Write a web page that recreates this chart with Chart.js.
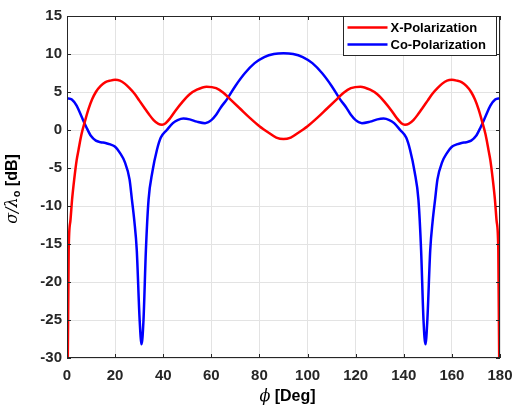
<!DOCTYPE html>
<html><head><meta charset="utf-8">
<script src="https://cdn.jsdelivr.net/npm/chart.js@4/dist/chart.umd.min.js"></script>
<style>html,body{margin:0;padding:0;background:#fff;}#wrap{width:514px;height:405px;}</style>
</head><body><div id="wrap"><canvas id="c" width="514" height="405"></canvas></div>
<script>
const xTicks = [0,20,40,60,80,100,120,140,160,180];
const yTicks = [-30,-25,-20,-15,-10,-5,0,5,10,15];

const phiX = [0,0.7,1.4,2.1,3,4,4.8,6,7.6,9,10.4,12,14,16,18,20,22,24,26,28,30,32,34,36,38,39.5,41,43,45,48,51,54,58,62,65,68,72,76,80,84,87,90,
  93,96,100,104,108,112,115,118,122,126,129,132,135,137,139,140.5,142,144,146,148,150,152,154,156,158,160,162,164,166,168,169.6,171,172.4,174,175.2,176,177,177.9,178.6,179.3,180];
const xPol = [-45,-15.8,-12,-9.2,-6.5,-4,-2.6,-0.6,1.3,2.8,4.0,5.0,5.8,6.3,6.5,6.6,6.5,6.1,5.5,4.8,3.9,3.0,2.1,1.3,0.8,0.7,0.9,1.6,2.5,3.7,4.7,5.3,5.7,5.5,4.9,4.0,2.8,1.6,0.5,-0.4,-1.0,-1.2,
  -1.0,-0.4,0.5,1.6,2.8,4.0,4.9,5.5,5.7,5.3,4.7,3.7,2.5,1.6,0.9,0.7,0.8,1.3,2.1,3.0,3.9,4.8,5.5,6.1,6.5,6.6,6.5,6.3,5.8,5.0,4.0,2.8,1.3,-0.6,-2.6,-4,-6.5,-9.2,-12,-15.8,-45];

const phiCo = [0,2,4,6,8,10,12,14,16,18,20,22,24,26,27,28,29,30.2,31,31.8,32.8,33.9,35.5,37.4,39,41.5,44,46,48.4,51,54,57.4,60,62,64,66.4,70,74,78,82,86,90,
  94,98,102,106,110,113.6,116,118,120,122.6,126,129,131.6,134,136,138.5,141,142.6,144.5,146.1,147.2,148.2,149,149.8,151,152,153,154,156,158,160,162,164,166,168,170,172,174,176,178,180];
const coPol = [4.2,4.0,3.2,1.8,0.4,-0.8,-1.4,-1.6,-1.7,-1.9,-2.2,-3.0,-4.2,-6.5,-9.2,-12,-15.8,-25,-28.2,-25,-15.8,-9.2,-5.5,-2.6,-1.0,0,0.9,1.3,1.5,1.4,1.1,0.9,1.3,2.0,3.0,4.0,5.8,7.5,8.8,9.6,10.0,10.1,
  10.0,9.6,8.8,7.5,5.8,4.0,3.0,2.0,1.3,0.9,1.1,1.4,1.5,1.3,0.9,0,-1.0,-2.6,-5.5,-9.2,-15.8,-25,-28.2,-25,-15.8,-12,-9.2,-6.5,-4.2,-3.0,-2.2,-1.9,-1.7,-1.6,-1.4,-0.8,0.4,1.8,3.2,4.0,4.2];

const seriesNames = ['X-Polarization','Co-Polarization'];
const seriesColors = ['#ff0000','#0000ff'];

const toPts = (xs, ys) => xs.map((x,i)=>({x:x,y:ys[i]}));
const FONT = '"Liberation Sans", Arial, Helvetica, sans-serif';
const TXT = '#262626';

const decor = {
  id:'decor',
  afterDatasetsDraw(chart){
    const {ctx, chartArea:a} = chart;
    ctx.save();
    ctx.strokeStyle = TXT; ctx.lineWidth = 1;
    ctx.strokeRect(a.left+0.5, a.top+0.5, a.right-a.left-1, a.bottom-a.top-1);
    const xs = chart.scales.x, ys = chart.scales.y;
    ctx.beginPath();
    xTicks.forEach(v=>{const p=Math.round(xs.getPixelForValue(v))+0.5;
      ctx.moveTo(p,a.bottom); ctx.lineTo(p,a.bottom-4); ctx.moveTo(p,a.top); ctx.lineTo(p,a.top+4);});
    yTicks.forEach(v=>{const p=Math.round(ys.getPixelForValue(v))+0.5;
      ctx.moveTo(a.left,p); ctx.lineTo(a.left+4,p); ctx.moveTo(a.right,p); ctx.lineTo(a.right-4,p);});
    ctx.stroke();
    // legend
    const lw=153, lh=39, lx=a.right-3.5-lw, ly=a.top+0.5;
    ctx.fillStyle='#fff'; ctx.fillRect(lx,ly,lw,lh);
    ctx.strokeStyle=TXT; ctx.strokeRect(lx,ly,lw,lh);
    ctx.font = 'bold 13px '+FONT; ctx.textBaseline='middle'; ctx.textAlign='left';
    chart.data.datasets.forEach((d,i)=>{
      const y = a.top + 11.5 + i*17;
      ctx.strokeStyle=d.borderColor; ctx.lineWidth=2.5;
      ctx.beginPath(); ctx.moveTo(lx+4,y); ctx.lineTo(lx+44,y); ctx.stroke();
      ctx.fillStyle='#000'; ctx.fillText(d.label, lx+47, y+0.5);
    });
    // x title
    ctx.fillStyle='#000';
    ctx.textBaseline='middle';
    const cx = (a.left+a.right)/2;
    ctx.font = 'italic 16px "DejaVu Serif", serif';
    const p1='ϕ'; const w1=ctx.measureText(p1).width;
    ctx.font = 'bold 16px '+FONT;
    const p2=' [Deg]'; const w2=ctx.measureText(p2).width;
    let sx = cx - (w1+w2)/2 + 4;
    ctx.font = 'italic 16px "DejaVu Serif", serif'; ctx.fillText(p1, sx, 397);
    ctx.font = 'bold 16px '+FONT; ctx.fillText(p2, sx+w1, 397);
    // y title rotated
    ctx.translate(13, 189); ctx.rotate(-Math.PI/2);
    const parts = [
      {t:'σ/λ', f:'italic 16px "DejaVu Serif", serif', dy:0},
      {t:'o', f:'bold 11px '+FONT, dy:4},
      {t:' [dB]', f:'bold 16px '+FONT, dy:0}
    ];
    let tw=0; parts.forEach(p=>{ctx.font=p.f; p.w=ctx.measureText(p.t).width; tw+=p.w;});
    let px=-tw/2;
    parts.forEach(p=>{ctx.font=p.f; ctx.fillText(p.t, px, p.dy); px+=p.w;});
    ctx.restore();
  }
};

new Chart(document.getElementById('c'), {
  type:'line',
  data:{datasets:[
    {label:seriesNames[0], data:toPts(phiX,xPol), borderColor:seriesColors[0], borderWidth:2.5, pointRadius:0, cubicInterpolationMode:'monotone', fill:false},
    {label:seriesNames[1], data:toPts(phiCo,coPol), borderColor:seriesColors[1], borderWidth:2.5, pointRadius:0, cubicInterpolationMode:'monotone', fill:false}
  ]},
  options:{
    responsive:false, animation:false, devicePixelRatio:1,
    layout:{padding:{top:16,right:14,left:0,bottom:0}},
    plugins:{legend:{display:false}, tooltip:{enabled:false}},
    scales:{
      x:{type:'linear', min:0, max:180,
        afterBuildTicks:s=>{s.ticks=xTicks.map(v=>({value:v}));},
        afterFit:s=>{s.height=47; s.paddingRight=14; s.paddingLeft=0;},
        grid:{color:'#e3e3e3', lineWidth:1, drawTicks:false},
        border:{display:false},
        ticks:{color:TXT, padding:9, maxRotation:0, font:{family:FONT, size:15, weight:'bold'}}},
      y:{type:'linear', min:-30, max:15,
        afterBuildTicks:s=>{s.ticks=yTicks.map(v=>({value:v}));},
        afterFit:s=>{s.width=67;},
        grid:{color:'#e3e3e3', lineWidth:1, drawTicks:false},
        border:{display:false},
        ticks:{color:TXT, padding:5, font:{family:FONT, size:15, weight:'bold'}}}
    }
  },
  plugins:[decor]
});
</script></body></html>
